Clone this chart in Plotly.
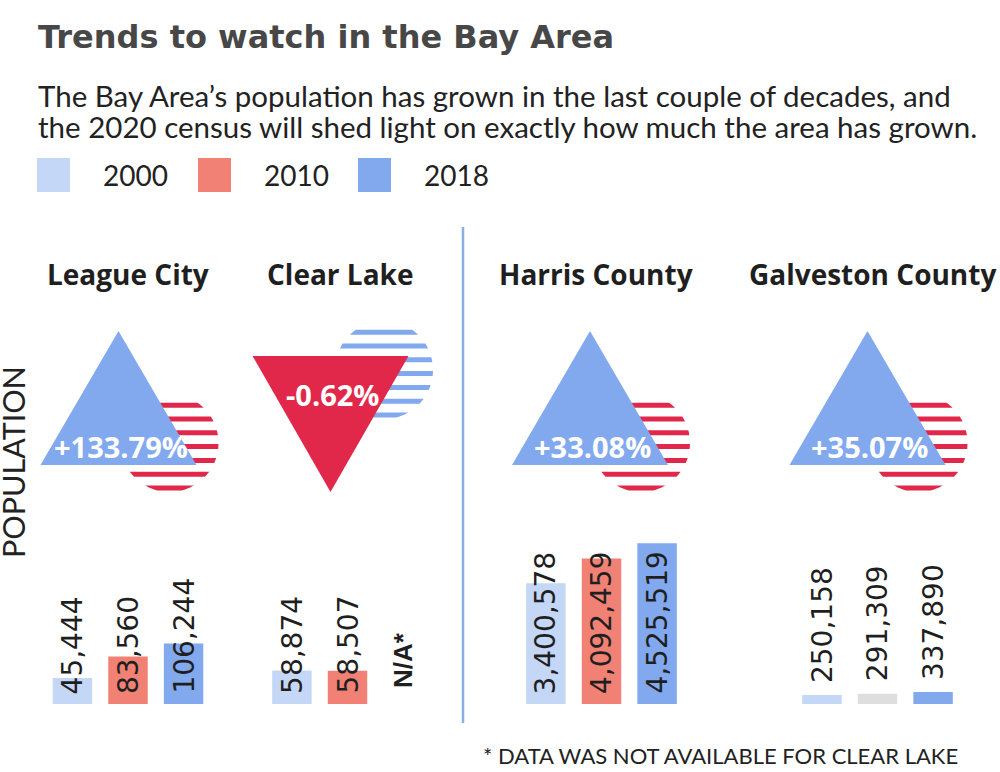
import math
import plotly.graph_objects as go

W, H = 1000, 772

# data
places = ["League City", "Clear Lake", "Harris County", "Galveston County"]
years = ["2000", "2010", "2018"]
pop_2000 = [45444, 58874, 3400578, 250158]
pop_2010 = [83560, 58507, 4092459, 291309]
pop_2018 = [106244, None, 4525519, 337890]
populations = [pop_2000, pop_2010, pop_2018]

title = "Trends to watch in the Bay Area"
subtitle = ["The Bay Area\u2019s population has grown in the last couple of decades, and",
            "the 2020 census will shed light on exactly how much the area has grown."]
footnote = "* DATA WAS NOT AVAILABLE FOR CLEAR LAKE"
missing_text = "N/A*"

# styles
year_colors = {"2000": "#c5d7f6", "2010": "#f08174", "2018": "#82a9ee"}
color_override = {("Galveston County", "2010"): "#dedede"}
BLUE = "#82a9ee"
RED = "#e2284a"
LINE_BLUE = "#8aaee6"
TEXT = "#1f1f1f"

# layout geometry (pixels in the page)
group_centers = [128, 347.5, 601.5, 877.5]
badge_centers = [118.5, 330.5, 590, 867.5]
name_centers = [128, 340, 596, 872]
SLOT = 220
BASE = 704
BAR_AREA = 200
LEFT_MAX = 351000
RIGHT_MAX = 5630000
BARGAP = 0.242


def fx(p):
    return p / W


def fy(p):
    return 1 - p / H


def striped_circle(cx, cy, r, color, period=13.8, thick=5.0):
    out = []
    k = 0
    while True:
        yb = cy + r - 1.5 - k * period
        yt = yb - thick
        if yb <= cy - r:
            break
        yt, yb = max(yt, cy - r), min(yb, cy + r)
        ys = [yt + (yb - yt) * s / 6 for s in range(7)]
        hw = [math.sqrt(max(r * r - (y - cy) ** 2, 0)) for y in ys]
        pts = [(cx - h, y) for h, y in zip(hw, ys)] + [(cx + h, y) for h, y in zip(hw[::-1], ys[::-1])]
        path = "M " + " L ".join(f"{fx(a):.5f},{fy(b):.5f}" for a, b in pts) + " Z"
        out.append(dict(type="path", path=path, xref="paper", yref="paper",
                        fillcolor=color, line_width=0, layer="above"))
        k += 1
    return out


fig = go.Figure()
shapes = []
annotations = []

for i, place in enumerate(places):
    xa = "x" if i == 0 else f"x{i + 1}"
    ya = "y" if i < 2 else "y2"
    ymax = LEFT_MAX if i < 2 else RIGHT_MAX
    for j, year in enumerate(years):
        val = populations[j][i]
        fig.add_trace(go.Bar(
            x=[place], y=[val], xaxis=xa, yaxis=ya,
            marker_color=color_override.get((place, year), year_colors[year]),
            marker_line_width=0, showlegend=False, name=year,
        ))
        # rotated value label sitting at the base of the bar
        offset = (j - 1) * (1 - BARGAP) / 3
        if val is None:
            annotations.append(dict(
                x=offset, y=0, xref=xa, yref=ya, text=missing_text, showarrow=False,
                textangle=-90, xanchor="center", yanchor="bottom", yshift=14,
                font=dict(family="Liberation Sans", size=26, color=TEXT, weight="bold")))
            continue
        small = val / ymax < 0.1
        annotations.append(dict(
            x=offset, y=val if small else 0, xref=xa, yref=ya, text=f"{val:,}",
            showarrow=False, textangle=-90, xanchor="center", yanchor="bottom",
            yshift=10 if small else 8,
            font=dict(family="DejaVu Sans", size=28, color=TEXT)))

    # percent change badge
    vals = [populations[j][i] for j in range(len(years)) if populations[j][i] is not None]
    pct = (vals[-1] / vals[0] - 1) * 100
    cx = badge_centers[i]
    if pct >= 0:
        tri = [(cx, 331), (cx - 78, 465), (cx + 78, 465)]
        ccx, ccy, stripe_col, tri_col, ty = cx + 51, 443, RED, BLUE, 447
    else:
        tri = [(cx - 78, 356), (cx + 78, 356), (cx, 492)]
        ccx, ccy, stripe_col, tri_col, ty = cx + 53.5, 370, BLUE, RED, 394
    shapes += striped_circle(ccx, ccy, 49, stripe_col)
    path = "M " + " L ".join(f"{fx(a):.5f},{fy(b):.5f}" for a, b in tri) + " Z"
    shapes.append(dict(type="path", path=path, xref="paper", yref="paper",
                       fillcolor=tri_col, line_width=0, layer="above"))
    annotations.append(dict(
        x=fx(cx + 2), y=fy(ty), xref="paper", yref="paper", text=f"{pct:+.2f}%",
        showarrow=False, xanchor="center", yanchor="middle",
        font=dict(family="Open Sans", size=29, color="white", weight="bold")))
    # place name
    annotations.append(dict(
        x=fx(name_centers[i]), y=fy(274), xref="paper", yref="paper", text=place,
        showarrow=False, xanchor="center", yanchor="middle",
        font=dict(family="Open Sans", size=28, color=TEXT, weight="bold")))

# header
annotations.append(dict(x=fx(36), y=fy(37), xref="paper", yref="paper", text=title,
                        showarrow=False, xanchor="left", yanchor="middle",
                        font=dict(family="DejaVu Sans", size=32, color="#474747", weight="bold")))
for n, line in enumerate(subtitle):
    annotations.append(dict(x=fx(36), y=fy(95 + n * 31), xref="paper", yref="paper", text=line,
                            showarrow=False, xanchor="left", yanchor="middle",
                            font=dict(family="Lato", size=29.5, color="#222222")))

# legend
legend_x = [37, 198, 358]
for year, lx in zip(years, legend_x):
    shapes.append(dict(type="rect", xref="paper", yref="paper",
                       x0=fx(lx), x1=fx(lx + 33), y0=fy(192), y1=fy(158),
                       fillcolor=year_colors[year], line_width=0))
    annotations.append(dict(x=fx(lx + 64), y=fy(175), xref="paper", yref="paper", text=year,
                            showarrow=False, xanchor="left", yanchor="middle",
                            font=dict(family="Lato", size=28, color="#222222")))

# divider, axis caption, footnote
shapes.append(dict(type="line", xref="paper", yref="paper", x0=fx(463), x1=fx(463),
                   y0=fy(227), y1=fy(723), line=dict(color=LINE_BLUE, width=2.5)))
annotations.append(dict(x=fx(13), y=fy(462), xref="paper", yref="paper", text="POPULATION",
                        showarrow=False, textangle=-90, xanchor="center", yanchor="middle",
                        font=dict(family="Lato", size=30.5, color="#222222")))
annotations.append(dict(x=fx(960), y=fy(755), xref="paper", yref="paper", text=footnote,
                        showarrow=False, xanchor="right", yanchor="middle",
                        font=dict(family="Lato", size=22, color="#222222")))

layout_axes = {}
for i, c in enumerate(group_centers):
    key = "xaxis" if i == 0 else f"xaxis{i + 1}"
    layout_axes[key] = dict(domain=[fx(c - SLOT / 2), fx(c + SLOT / 2)], type="category",
                            range=[-0.5, 0.5], visible=False, fixedrange=True,
                            anchor="y" if i < 2 else "y2")
layout_axes["yaxis"] = dict(domain=[fy(BASE), fy(BASE - BAR_AREA)], range=[0, LEFT_MAX],
                            visible=False, fixedrange=True, anchor="x")
layout_axes["yaxis2"] = dict(domain=[fy(BASE), fy(BASE - BAR_AREA)], range=[0, RIGHT_MAX],
                             visible=False, fixedrange=True, anchor="x3")

fig.update_layout(
    width=W, height=H,
    margin=dict(l=0, r=0, t=0, b=0),
    paper_bgcolor="white", plot_bgcolor="white",
    barmode="group", bargap=BARGAP, bargroupgap=0.29,
    shapes=shapes, annotations=annotations,
    showlegend=False,
    **layout_axes,
)

# drop the browser's default body margin so the figure fills the window exactly
fig.write_html("out.html", config={"displayModeBar": False},
               post_script="document.body.style.margin = '0';")
